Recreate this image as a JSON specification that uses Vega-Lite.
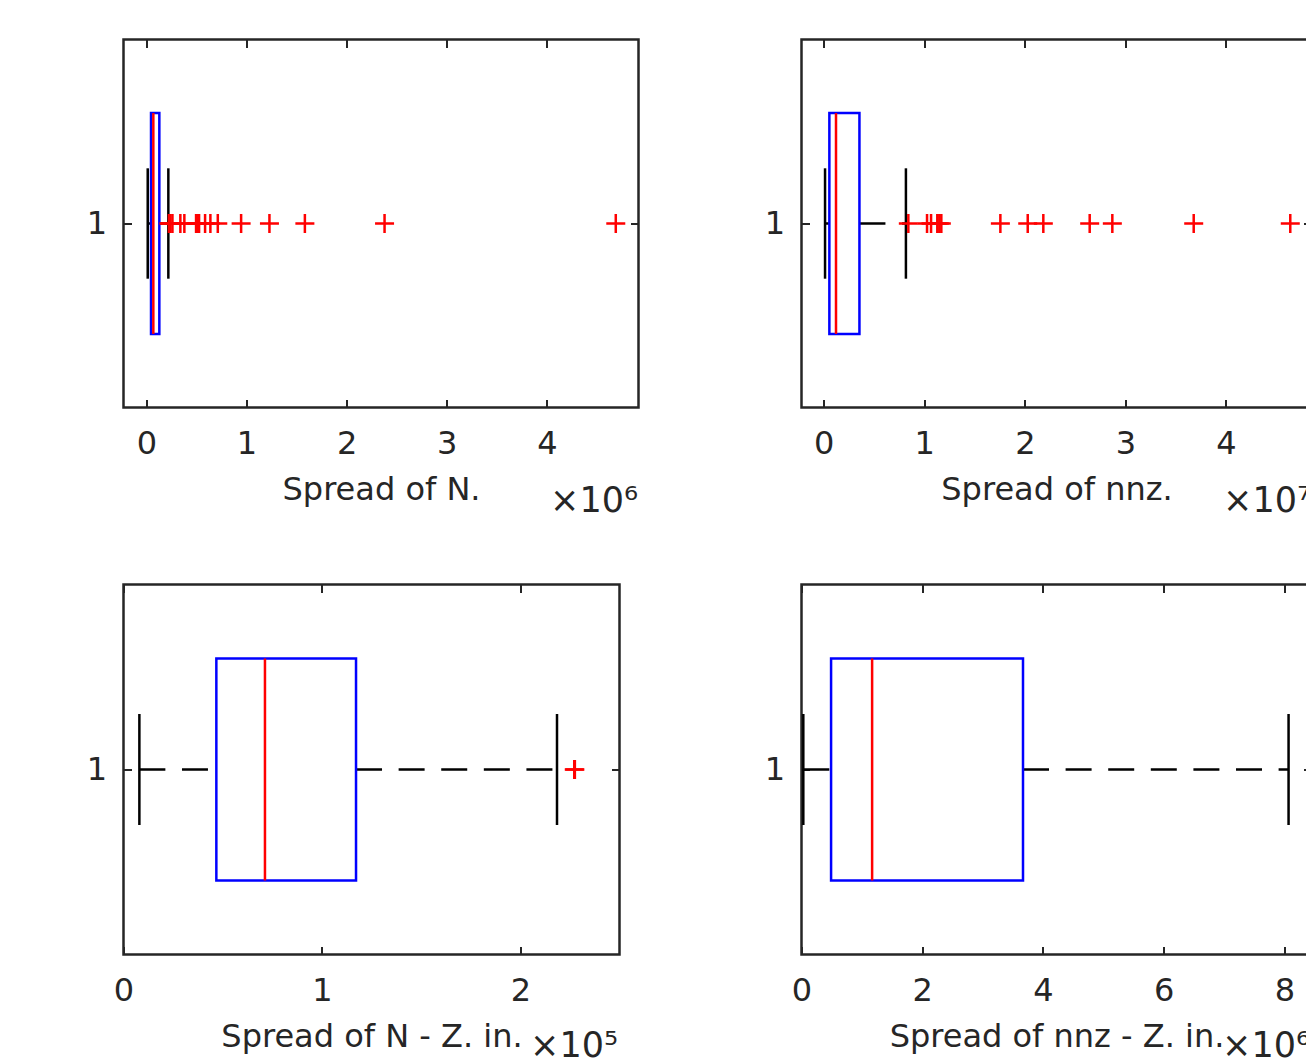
{
  "$schema": "https://vega.github.io/schema/vega-lite/v6.json",
  "background": "white",
  "autosize": {"type": "pad"},
  "padding": {"left": 84.5, "top": 36.5, "right": 0, "bottom": 0},
  "datasets": {
    "stats": [
      {"panel": "N", "lo": 13000, "q1": 46000, "med": 69000, "q3": 129000, "hi": 219000},
      {"panel": "nnz", "lo": 140000, "q1": 570000, "med": 1230000, "q3": 3560000, "hi": 8180000},
      {"panel": "NZ", "lo": 8000, "q1": 46800, "med": 71300, "q3": 117200, "hi": 218500},
      {"panel": "nnzZ", "lo": 30000, "q1": 490000, "med": 1170000, "q3": 3670000, "hi": 8070000}
    ],
    "outliers": [
      {"panel": "N", "v": 225000}, {"panel": "N", "v": 240000}, {"panel": "N", "v": 260000},
      {"panel": "N", "v": 339000}, {"panel": "N", "v": 379000}, {"panel": "N", "v": 496000},
      {"panel": "N", "v": 510000}, {"panel": "N", "v": 526000}, {"panel": "N", "v": 586000},
      {"panel": "N", "v": 639000}, {"panel": "N", "v": 713000}, {"panel": "N", "v": 946000},
      {"panel": "N", "v": 1229000}, {"panel": "N", "v": 1583000}, {"panel": "N", "v": 2379000},
      {"panel": "N", "v": 4689000},
      {"panel": "nnz", "v": 8420000}, {"panel": "nnz", "v": 10280000}, {"panel": "nnz", "v": 10680000},
      {"panel": "nnz", "v": 11300000}, {"panel": "nnz", "v": 11500000}, {"panel": "nnz", "v": 11700000},
      {"panel": "nnz", "v": 17570000}, {"panel": "nnz", "v": 20290000}, {"panel": "nnz", "v": 21840000},
      {"panel": "nnz", "v": 26450000}, {"panel": "nnz", "v": 28700000}, {"panel": "nnz", "v": 36790000},
      {"panel": "nnz", "v": 46390000},
      {"panel": "NZ", "v": 227200}, {"panel": "NZ", "v": 227500}
    ]
  },
  "columns": 2,
  "spacing": {"row": 175, "column": 163},
  "bounds": "flush",
  "align": "all",
  "concat": [
    {
      "width": 515, "height": 368,
      "data": {"name": "stats"},
      "transform": [{"filter": "datum.panel === 'N'"}],
      "resolve": {"axis": {"x": "independent", "y": "independent"}},
      "layer": [
        {"mark": {"type": "rule", "stroke": "#000000", "strokeWidth": 2.5, "strokeDash": [26, 16.6]},
         "encoding": {"x": {"field": "lo", "type": "quantitative", "scale": {"domain": [-229000, 4916000], "nice": false, "zero": false}, "axis": null}, "x2": {"field": "q1"}, "y": {"datum": 1, "type": "quantitative", "scale": {"domain": [0.5, 1.5], "nice": false, "zero": false}, "axis": null}}},
        {"mark": {"type": "rule", "stroke": "#000000", "strokeWidth": 2.5, "strokeDash": [26, 16.6]},
         "encoding": {"x": {"field": "q3", "type": "quantitative", "axis": null}, "x2": {"field": "hi"}, "y": {"datum": 1, "type": "quantitative", "axis": null}}},
        {"mark": {"type": "rule", "stroke": "#000000", "strokeWidth": 2.5},
         "encoding": {"x": {"field": "lo", "type": "quantitative", "axis": {"orient": "top", "values": [0, 1000000, 2000000, 3000000, 4000000], "labels": false, "title": "×10⁶", "titleFontSize": 35, "titleX": 514, "titleY": 472, "titleAlign": "right", "titleBaseline": "alphabetic"}}, "y": {"datum": 0.85, "type": "quantitative", "axis": {"orient": "right", "values": [1], "labels": false, "title": null}}, "y2": {"datum": 1.15}}},
        {"mark": {"type": "rule", "stroke": "#000000", "strokeWidth": 2.5},
         "encoding": {"x": {"field": "hi", "type": "quantitative", "axis": null}, "y": {"datum": 0.85, "type": "quantitative", "axis": null}, "y2": {"datum": 1.15}}},
        {"mark": {"type": "rect", "fill": "transparent", "stroke": "#0000ff", "strokeWidth": 2.5},
         "encoding": {"x": {"field": "q1", "type": "quantitative", "axis": {"orient": "bottom", "values": [0, 1000000, 2000000, 3000000, 4000000], "labelExpr": "datum.value / 1000000", "labelPadding": 28.5, "title": "Spread of N.", "titleY": 92, "titleBaseline": "alphabetic"}}, "x2": {"field": "q3"}, "y": {"datum": 0.7, "type": "quantitative", "axis": {"orient": "left", "values": [1], "labelPadding": 25, "title": null}}, "y2": {"datum": 1.3}}},
        {"mark": {"type": "rule", "stroke": "#ff0000", "strokeWidth": 2.5},
         "encoding": {"x": {"field": "med", "type": "quantitative", "axis": null}, "y": {"datum": 0.7, "type": "quantitative", "axis": null}, "y2": {"datum": 1.3}}},
        {"data": {"name": "outliers"}, "transform": [{"filter": "datum.panel === 'N'"}],
         "mark": {"type": "point", "shape": "M-1,0H1M0,-1V1", "size": 361, "filled": false, "stroke": "#ff0000", "strokeWidth": 2.5, "opacity": 1},
         "encoding": {"x": {"field": "v", "type": "quantitative", "axis": null}, "y": {"datum": 1, "type": "quantitative", "axis": null}}}
      ]
    },
    {
      "width": 510, "height": 368,
      "data": {"name": "stats"},
      "transform": [{"filter": "datum.panel === 'nnz'"}],
      "resolve": {"axis": {"x": "independent", "y": "independent"}},
      "layer": [
        {"mark": {"type": "rule", "stroke": "#000000", "strokeWidth": 2.5, "strokeDash": [26, 16.6]},
         "encoding": {"x": {"field": "lo", "type": "quantitative", "scale": {"domain": [-2200000, 48500000], "nice": false, "zero": false}, "axis": null}, "x2": {"field": "q1"}, "y": {"datum": 1, "type": "quantitative", "scale": {"domain": [0.5, 1.5], "nice": false, "zero": false}, "axis": null}}},
        {"mark": {"type": "rule", "stroke": "#000000", "strokeWidth": 2.5, "strokeDash": [26, 16.6]},
         "encoding": {"x": {"field": "q3", "type": "quantitative", "axis": null}, "x2": {"field": "hi"}, "y": {"datum": 1, "type": "quantitative", "axis": null}}},
        {"mark": {"type": "rule", "stroke": "#000000", "strokeWidth": 2.5},
         "encoding": {"x": {"field": "lo", "type": "quantitative", "axis": {"orient": "top", "values": [0, 10000000, 20000000, 30000000, 40000000], "labels": false, "title": "×10⁷", "titleFontSize": 35, "titleX": 509, "titleY": 472, "titleAlign": "right", "titleBaseline": "alphabetic"}}, "y": {"datum": 0.85, "type": "quantitative", "axis": {"orient": "right", "values": [1], "labels": false, "title": null}}, "y2": {"datum": 1.15}}},
        {"mark": {"type": "rule", "stroke": "#000000", "strokeWidth": 2.5},
         "encoding": {"x": {"field": "hi", "type": "quantitative", "axis": null}, "y": {"datum": 0.85, "type": "quantitative", "axis": null}, "y2": {"datum": 1.15}}},
        {"mark": {"type": "rect", "fill": "transparent", "stroke": "#0000ff", "strokeWidth": 2.5},
         "encoding": {"x": {"field": "q1", "type": "quantitative", "axis": {"orient": "bottom", "values": [0, 10000000, 20000000, 30000000, 40000000], "labelExpr": "datum.value / 10000000", "labelPadding": 28.5, "title": "Spread of nnz.", "titleY": 92, "titleBaseline": "alphabetic"}}, "x2": {"field": "q3"}, "y": {"datum": 0.7, "type": "quantitative", "axis": {"orient": "left", "values": [1], "labelPadding": 25, "title": null}}, "y2": {"datum": 1.3}}},
        {"mark": {"type": "rule", "stroke": "#ff0000", "strokeWidth": 2.5},
         "encoding": {"x": {"field": "med", "type": "quantitative", "axis": null}, "y": {"datum": 0.7, "type": "quantitative", "axis": null}, "y2": {"datum": 1.3}}},
        {"data": {"name": "outliers"}, "transform": [{"filter": "datum.panel === 'nnz'"}],
         "mark": {"type": "point", "shape": "M-1,0H1M0,-1V1", "size": 361, "filled": false, "stroke": "#ff0000", "strokeWidth": 2.5, "opacity": 1},
         "encoding": {"x": {"field": "v", "type": "quantitative", "axis": null}, "y": {"datum": 1, "type": "quantitative", "axis": null}}}
      ]
    },
    {
      "width": 496, "height": 370,
      "data": {"name": "stats"},
      "transform": [{"filter": "datum.panel === 'NZ'"}],
      "resolve": {"axis": {"x": "independent", "y": "independent"}},
      "layer": [
        {"mark": {"type": "rule", "stroke": "#000000", "strokeWidth": 2.5, "strokeDash": [26, 16.6]},
         "encoding": {"x": {"field": "lo", "type": "quantitative", "scale": {"domain": [0, 250000], "nice": false, "zero": false}, "axis": null}, "x2": {"field": "q1"}, "y": {"datum": 1, "type": "quantitative", "scale": {"domain": [0.5, 1.5], "nice": false, "zero": false}, "axis": null}}},
        {"mark": {"type": "rule", "stroke": "#000000", "strokeWidth": 2.5, "strokeDash": [26, 16.6]},
         "encoding": {"x": {"field": "q3", "type": "quantitative", "axis": null}, "x2": {"field": "hi"}, "y": {"datum": 1, "type": "quantitative", "axis": null}}},
        {"mark": {"type": "rule", "stroke": "#000000", "strokeWidth": 2.5},
         "encoding": {"x": {"field": "lo", "type": "quantitative", "axis": {"orient": "top", "values": [0, 100000, 200000], "labels": false, "title": "×10⁵", "titleFontSize": 35, "titleX": 494, "titleY": 472, "titleAlign": "right", "titleBaseline": "alphabetic"}}, "y": {"datum": 0.85, "type": "quantitative", "axis": {"orient": "right", "values": [1], "labels": false, "title": null}}, "y2": {"datum": 1.15}}},
        {"mark": {"type": "rule", "stroke": "#000000", "strokeWidth": 2.5},
         "encoding": {"x": {"field": "hi", "type": "quantitative", "axis": null}, "y": {"datum": 0.85, "type": "quantitative", "axis": null}, "y2": {"datum": 1.15}}},
        {"mark": {"type": "rect", "fill": "transparent", "stroke": "#0000ff", "strokeWidth": 2.5},
         "encoding": {"x": {"field": "q1", "type": "quantitative", "axis": {"orient": "bottom", "values": [0, 100000, 200000], "labelExpr": "datum.value / 100000", "labelPadding": 28.5, "title": "Spread of N - Z. in.", "titleY": 91.5, "titleBaseline": "alphabetic"}}, "x2": {"field": "q3"}, "y": {"datum": 0.7, "type": "quantitative", "axis": {"orient": "left", "values": [1], "labelPadding": 25, "title": null}}, "y2": {"datum": 1.3}}},
        {"mark": {"type": "rule", "stroke": "#ff0000", "strokeWidth": 2.5},
         "encoding": {"x": {"field": "med", "type": "quantitative", "axis": null}, "y": {"datum": 0.7, "type": "quantitative", "axis": null}, "y2": {"datum": 1.3}}},
        {"data": {"name": "outliers"}, "transform": [{"filter": "datum.panel === 'NZ'"}],
         "mark": {"type": "point", "shape": "M-1,0H1M0,-1V1", "size": 361, "filled": false, "stroke": "#ff0000", "strokeWidth": 2.5, "opacity": 1},
         "encoding": {"x": {"field": "v", "type": "quantitative", "axis": null}, "y": {"datum": 1, "type": "quantitative", "axis": null}}}
      ]
    },
    {
      "width": 510, "height": 370,
      "data": {"name": "stats"},
      "transform": [{"filter": "datum.panel === 'nnzZ'"}],
      "resolve": {"axis": {"x": "independent", "y": "independent"}},
      "layer": [
        {"mark": {"type": "rule", "stroke": "#000000", "strokeWidth": 2.5, "strokeDash": [26, 16.6]},
         "encoding": {"x": {"field": "lo", "type": "quantitative", "scale": {"domain": [0, 8450000], "nice": false, "zero": false}, "axis": null}, "x2": {"field": "q1"}, "y": {"datum": 1, "type": "quantitative", "scale": {"domain": [0.5, 1.5], "nice": false, "zero": false}, "axis": null}}},
        {"mark": {"type": "rule", "stroke": "#000000", "strokeWidth": 2.5, "strokeDash": [26, 16.6]},
         "encoding": {"x": {"field": "q3", "type": "quantitative", "axis": null}, "x2": {"field": "hi"}, "y": {"datum": 1, "type": "quantitative", "axis": null}}},
        {"mark": {"type": "rule", "stroke": "#000000", "strokeWidth": 2.5},
         "encoding": {"x": {"field": "lo", "type": "quantitative", "axis": {"orient": "top", "values": [0, 2000000, 4000000, 6000000, 8000000], "labels": false, "title": "×10⁶", "titleFontSize": 35, "titleX": 508, "titleY": 472, "titleAlign": "right", "titleBaseline": "alphabetic"}}, "y": {"datum": 0.85, "type": "quantitative", "axis": {"orient": "right", "values": [1], "labels": false, "title": null}}, "y2": {"datum": 1.15}}},
        {"mark": {"type": "rule", "stroke": "#000000", "strokeWidth": 2.5},
         "encoding": {"x": {"field": "hi", "type": "quantitative", "axis": null}, "y": {"datum": 0.85, "type": "quantitative", "axis": null}, "y2": {"datum": 1.15}}},
        {"mark": {"type": "rect", "fill": "transparent", "stroke": "#0000ff", "strokeWidth": 2.5},
         "encoding": {"x": {"field": "q1", "type": "quantitative", "axis": {"orient": "bottom", "values": [0, 2000000, 4000000, 6000000, 8000000], "labelExpr": "datum.value / 1000000", "labelPadding": 28.5, "title": "Spread of nnz - Z. in.", "titleY": 91.5, "titleBaseline": "alphabetic"}}, "x2": {"field": "q3"}, "y": {"datum": 0.7, "type": "quantitative", "axis": {"orient": "left", "values": [1], "labelPadding": 25, "title": null}}, "y2": {"datum": 1.3}}},
        {"mark": {"type": "rule", "stroke": "#ff0000", "strokeWidth": 2.5},
         "encoding": {"x": {"field": "med", "type": "quantitative", "axis": null}, "y": {"datum": 0.7, "type": "quantitative", "axis": null}, "y2": {"datum": 1.3}}}
      ]
    }
  ],
  "config": {
    "view": {"stroke": "#262626", "strokeWidth": 2.5},
    "axis": {
      "grid": false, "domain": false, "tickSize": -8, "tickWidth": 2, "tickColor": "#262626",
      "labelFont": "DejaVu Sans", "labelFontSize": 32, "labelColor": "#262626",
      "labelFlush": false, "labelOverlap": false,
      "titleFont": "DejaVu Sans", "titleFontSize": 32, "titleColor": "#262626", "titleFontWeight": "normal"
    }
  }
}
